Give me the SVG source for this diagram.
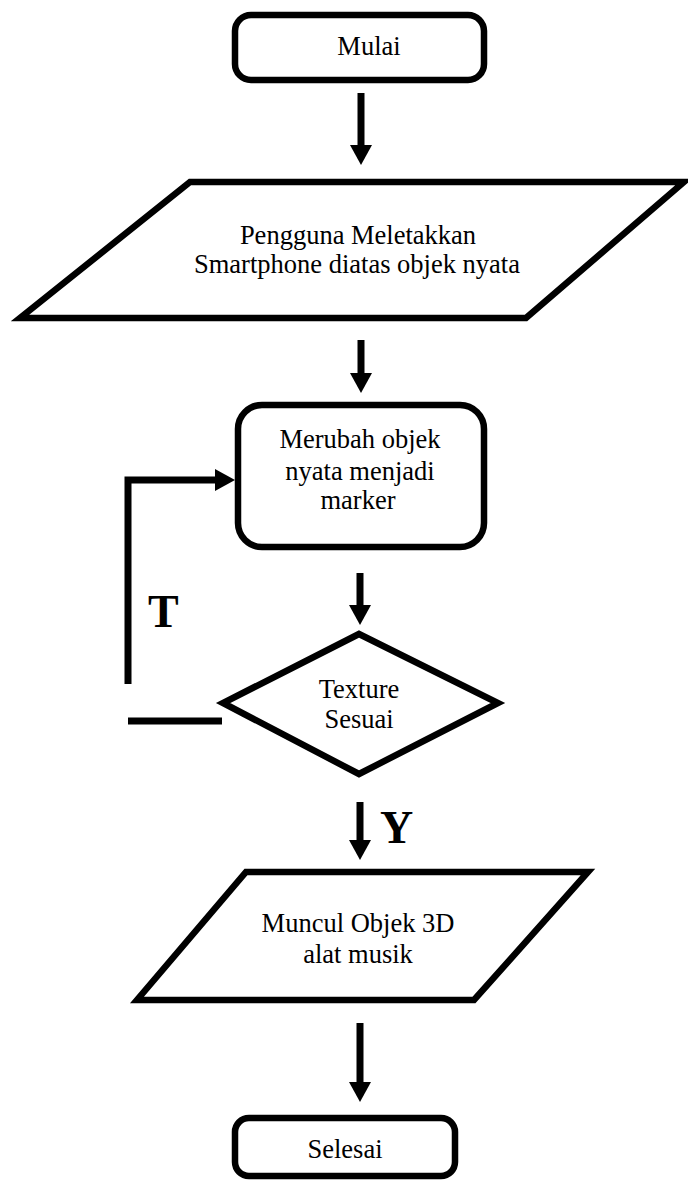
<svg xmlns="http://www.w3.org/2000/svg" width="688" height="1180" viewBox="0 0 688 1180">
  <style>
    .shape { fill: #ffffff; stroke: #000000; stroke-width: 6.5; stroke-linejoin: miter; }
    .label { font-family: "Liberation Serif", "Times New Roman", serif; font-size: 26.5px; fill: #000000; text-anchor: middle; }
    .branch { font-family: "Liberation Serif", "Times New Roman", serif; font-size: 46px; font-weight: bold; fill: #000000; }
    .flow { fill: none; stroke: #000000; stroke-width: 7; stroke-linecap: butt; stroke-linejoin: miter; }
  </style>
  <defs>
    <marker id="head" markerUnits="userSpaceOnUse" markerWidth="20" markerHeight="22" viewBox="0 0 20 22" refX="0" refY="11" orient="auto">
      <path d="M0,0 L20,11 L0,22 Z" fill="#000000"/>
    </marker>
  </defs>
  <rect width="688" height="1180" fill="#ffffff"/>

  <g id="start">
    <rect class="shape" x="235" y="15" width="249" height="65" rx="16" ry="16"/>
    <text class="label" x="369" y="55">Mulai</text>
  </g>

  <g id="input-place-phone">
    <polygon class="shape" points="190,182 684,182 526,318 20,318"/>
    <text class="label" x="358" y="244">Pengguna Meletakkan</text>
    <text class="label" x="357" y="273">Smartphone diatas objek nyata</text>
  </g>

  <g id="process-marker">
    <rect class="shape" x="238" y="405" width="246" height="142" rx="24" ry="24"/>
    <text class="label" x="360" y="448">Merubah objek</text>
    <text class="label" x="360" y="480">nyata menjadi</text>
    <text class="label" x="358" y="509">marker</text>
  </g>

  <g id="decision-texture">
    <polygon class="shape" points="359,634 498,703 359,774 223,703"/>
    <text class="label" x="359" y="698">Texture</text>
    <text class="label" x="359" y="728">Sesuai</text>
  </g>

  <g id="output-3d-object">
    <polygon class="shape" points="246,872 588,872 474,1000 137,1000"/>
    <text class="label" x="358" y="932">Muncul Objek 3D</text>
    <text class="label" x="358" y="963">alat musik</text>
  </g>

  <g id="end">
    <rect class="shape" x="235" y="1118" width="220" height="58" rx="14" ry="14"/>
    <text class="label" x="345" y="1158">Selesai</text>
  </g>

  <g id="connectors">
    <line class="flow" x1="361" y1="93" x2="361" y2="145" marker-end="url(#head)"/>
    <line class="flow" x1="361" y1="340" x2="361" y2="373" marker-end="url(#head)"/>
    <line class="flow" x1="360" y1="573" x2="360" y2="605" marker-end="url(#head)"/>
    <line class="flow" x1="360" y1="802" x2="360" y2="840" marker-end="url(#head)"/>
    <line class="flow" x1="360" y1="1023" x2="360" y2="1082" marker-end="url(#head)"/>
    <polyline class="flow" points="128,684 128,480 215,480" marker-end="url(#head)"/>
    <line class="flow" x1="128" y1="721" x2="222" y2="721"/>
    <text class="branch" x="148" y="627">T</text>
    <text class="branch" x="380" y="843">Y</text>
  </g>
</svg>
